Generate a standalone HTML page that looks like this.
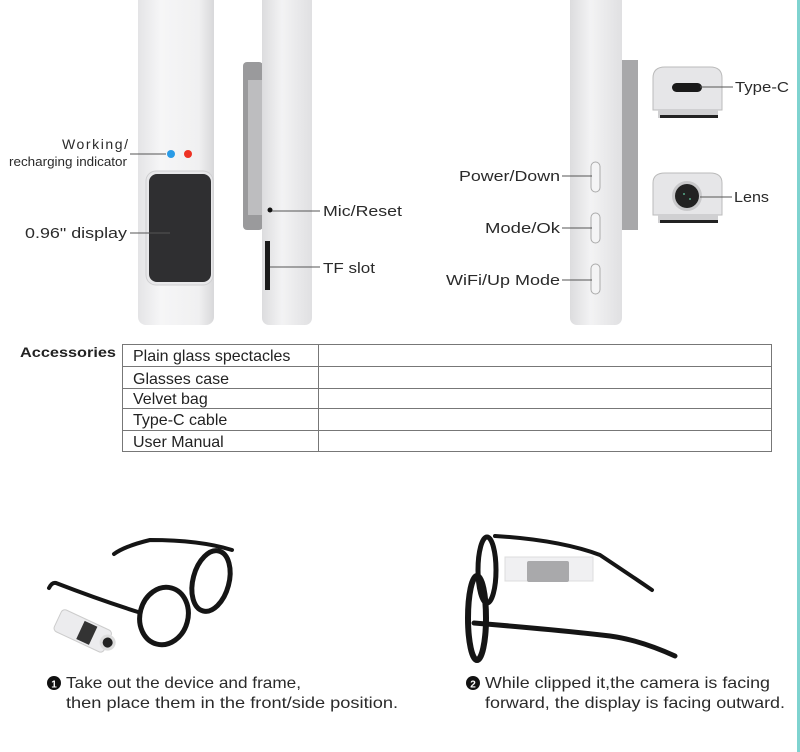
<!DOCTYPE html>
<html><head><meta charset="utf-8"><style>
body{margin:0;width:800px;height:752px;background:#fff;overflow:hidden;font-family:"Liberation Sans",sans-serif;}
svg{position:absolute;left:0;top:0}
</style></head><body>
<svg width="800" height="752" viewBox="0 0 800 752" font-family="Liberation Sans, sans-serif">
<defs>
<linearGradient id="g1" x1="0" x2="1"><stop offset="0" stop-color="#e4e4e6"/><stop offset="0.3" stop-color="#f6f6f7"/><stop offset="0.8" stop-color="#f0f0f1"/><stop offset="1" stop-color="#d8d8da"/></linearGradient>
<linearGradient id="g2" x1="0" x2="1"><stop offset="0" stop-color="#dcdcde"/><stop offset="0.4" stop-color="#f3f3f4"/><stop offset="1" stop-color="#e0e0e2"/></linearGradient>
</defs>
<rect x="797" y="0" width="3" height="752" fill="#7fd3d0"/>
<!-- device 1 front -->
<rect x="138" y="-10" width="76" height="335" rx="8" fill="url(#g1)"/>
<rect x="146" y="171" width="67" height="114" rx="10" fill="#e8e8ea" stroke="#cfcfd1"/>
<rect x="149" y="174" width="62" height="108" rx="8" fill="#2f2f31"/>
<circle cx="171" cy="154" r="4" fill="#2a9be6"/>
<circle cx="188" cy="154" r="4" fill="#ee3224"/>
<!-- device 2 side -->
<rect x="243" y="62" width="20" height="168" rx="4" fill="#9a9a9c"/>
<rect x="248" y="80" width="14" height="135" fill="#bdbdbf"/>
<rect x="262" y="-10" width="50" height="335" rx="7" fill="url(#g2)"/>
<circle cx="270" cy="210" r="2.5" fill="#111"/>
<rect x="265" y="241" width="5" height="49" fill="#1a1a1a"/>
<!-- device 3 side -->
<rect x="620" y="60" width="18" height="170" fill="#a8a8aa"/>
<rect x="570" y="-10" width="52" height="335" rx="7" fill="url(#g2)"/>
<rect x="591" y="162" width="9" height="30" rx="4.5" fill="#f4f4f5" stroke="#aaa"/>
<rect x="591" y="213" width="9" height="30" rx="4.5" fill="#f4f4f5" stroke="#aaa"/>
<rect x="591" y="264" width="9" height="30" rx="4.5" fill="#f4f4f5" stroke="#aaa"/>
<!-- type-c module -->
<path d="M653 110 V78 Q653 67 665 67 H710 Q722 67 722 78 V110 Z" fill="#e6e6e8" stroke="#bbb"/>
<rect x="672" y="83" width="30" height="9" rx="4.5" fill="#1a1a1a"/>
<rect x="658" y="110" width="60" height="8" fill="#d0d0d2"/>
<rect x="660" y="115" width="58" height="3" fill="#222"/>
<!-- lens module -->
<path d="M653 215 V183 Q653 173 665 173 H710 Q722 173 722 183 V215 Z" fill="#e6e6e8" stroke="#bbb"/>
<circle cx="687" cy="196" r="15" fill="#c9c9cb"/>
<circle cx="687" cy="196" r="12" fill="#222"/>
<circle cx="684" cy="194" r="1" fill="#5a8"/><circle cx="690" cy="199" r="1" fill="#5a8"/>
<rect x="658" y="215" width="60" height="8" fill="#d0d0d2"/>
<rect x="660" y="220" width="58" height="3" fill="#222"/>
<g stroke="#555" stroke-width="1">
<line x1="130" y1="154" x2="166" y2="154"/>
<line x1="130" y1="233" x2="170" y2="233"/>
<line x1="272" y1="211" x2="320" y2="211"/>
<line x1="270" y1="267" x2="320" y2="267"/>
<line x1="562" y1="176" x2="592" y2="176"/>
<line x1="562" y1="228" x2="592" y2="228"/>
<line x1="562" y1="280" x2="592" y2="280"/>
<line x1="700" y1="87" x2="733" y2="87"/>
<line x1="700" y1="197" x2="732" y2="197"/>
</g>
<g fill="#2a2a2a" font-size="15" lengthAdjust="spacingAndGlyphs">
<text x="62" y="149" font-size="14" textLength="66">Working/</text>
<text x="9" y="166" font-size="13" textLength="118" lengthAdjust="spacingAndGlyphs">recharging indicator</text>
<text x="25" y="238" textLength="102" lengthAdjust="spacingAndGlyphs">0.96" display</text>
<text x="323" y="216" textLength="79" lengthAdjust="spacingAndGlyphs">Mic/Reset</text>
<text x="323" y="273" textLength="52" lengthAdjust="spacingAndGlyphs">TF slot</text>
<text x="459" y="181" textLength="101" lengthAdjust="spacingAndGlyphs">Power/Down</text>
<text x="485" y="233" textLength="75" lengthAdjust="spacingAndGlyphs">Mode/Ok</text>
<text x="446" y="285" textLength="114" lengthAdjust="spacingAndGlyphs">WiFi/Up Mode</text>
<text x="735" y="92" textLength="54" lengthAdjust="spacingAndGlyphs">Type-C</text>
<text x="734" y="202" textLength="35" lengthAdjust="spacingAndGlyphs">Lens</text>
</g>
<!-- table -->
<text x="20" y="357" font-size="14" font-weight="bold" fill="#222" textLength="96" lengthAdjust="spacingAndGlyphs">Accessories</text>
<g stroke="#777" stroke-width="1" fill="none">
<rect x="122.5" y="344.5" width="649" height="107"/>
<line x1="318.5" y1="344" x2="318.5" y2="452"/>
<line x1="122" y1="366.5" x2="772" y2="366.5"/>
<line x1="122" y1="388.5" x2="772" y2="388.5"/>
<line x1="122" y1="408.5" x2="772" y2="408.5"/>
<line x1="122" y1="430.5" x2="772" y2="430.5"/>
</g>
<g fill="#222" font-size="16">
<text x="133" y="361">Plain glass spectacles</text>
<text x="133" y="384">Glasses case</text>
<text x="133" y="404">Velvet bag</text>
<text x="133" y="425">Type-C cable</text>
<text x="133" y="447">User Manual</text>
</g>
<!-- glasses 1 -->
<g stroke="#151515" fill="none" stroke-linecap="round">
<path d="M114 554 Q125 546 150 540 Q200 540 232 550" stroke-width="4"/>
<path d="M49 588 Q52 582 56 583 Q100 600 138 612" stroke-width="4"/>
<ellipse cx="211" cy="581" rx="18" ry="31" transform="rotate(15 211 581)" stroke-width="5"/>
<ellipse cx="164" cy="616" rx="24" ry="29" transform="rotate(15 164 616)" stroke-width="5"/>
</g>
<g transform="rotate(25 85 632)">
<rect x="55" y="620" width="55" height="24" rx="4" fill="#ececee" stroke="#ccc"/>
<rect x="80" y="622" width="14" height="20" fill="#333"/>
<circle cx="110" cy="632" r="8" fill="#ddd"/><circle cx="110" cy="632" r="5" fill="#222"/>
</g>
<!-- glasses 2 -->
<rect x="505" y="557" width="88" height="24" fill="#f0f0f2" stroke="#ddd"/>
<rect x="527" y="561" width="42" height="21" rx="2" fill="#a9a9ab"/>
<g stroke="#151515" fill="none" stroke-linecap="round">
<path d="M495 536 Q560 540 600 555 Q630 575 652 590" stroke-width="4"/>
<path d="M474 623 Q560 630 610 636 Q640 640 675 656" stroke-width="5"/>
<ellipse cx="487" cy="570" rx="9" ry="33" stroke-width="5"/>
<ellipse cx="477" cy="618" rx="9" ry="42" stroke-width="6"/>
</g>
<!-- captions -->
<g fill="#2a2a2a" font-size="16">
<circle cx="54" cy="683" r="7" fill="#111"/><text x="54" y="687.5" font-size="10" fill="#fff" text-anchor="middle" font-weight="bold">1</text>
<text x="66" y="688" textLength="235" lengthAdjust="spacingAndGlyphs">Take out the device and frame,</text>
<text x="66" y="708" textLength="332" lengthAdjust="spacingAndGlyphs">then place them in the front/side position.</text>
<circle cx="473" cy="683" r="7" fill="#111"/><text x="473" y="687.5" font-size="10" fill="#fff" text-anchor="middle" font-weight="bold">2</text>
<text x="485" y="688" textLength="285" lengthAdjust="spacingAndGlyphs">While clipped it,the camera is facing</text>
<text x="485" y="708" textLength="300" lengthAdjust="spacingAndGlyphs">forward, the display is facing outward.</text>
</g>
</svg>
</body></html>
